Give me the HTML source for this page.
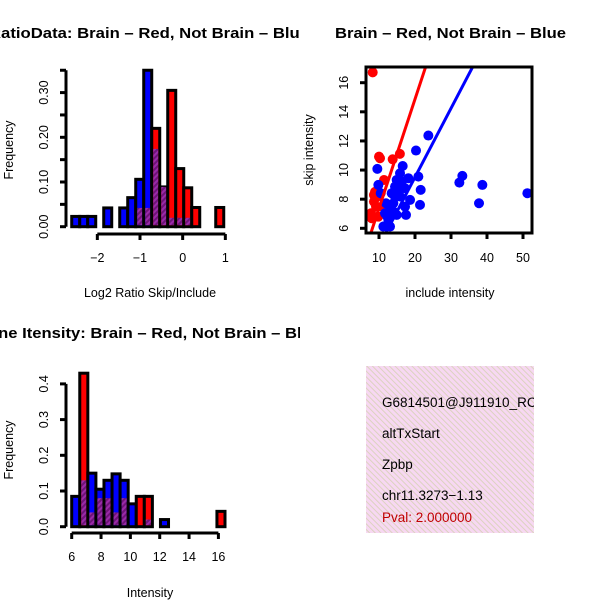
<!DOCTYPE html>
<html><head><meta charset="utf-8"><style>
body{margin:0;background:#fff;}
svg{position:absolute;left:0;top:0;font-family:"Liberation Sans",sans-serif;}
</style></head><body>
<svg id="s" width="600" height="600">
<defs>
<pattern id="ph" width="4" height="4" patternUnits="userSpaceOnUse" patternTransform="rotate(45)"><rect width="4" height="4" fill="#9a2aa8"/><rect width="2" height="4" fill="#6e1478"/></pattern>
<pattern id="pk" width="4" height="4" patternUnits="userSpaceOnUse" patternTransform="rotate(-45)"><rect width="4" height="4" fill="#f7d8f2"/><rect width="1" height="4" fill="#dcd2c0"/></pattern>
<clipPath id="c1"><rect x="0" y="0" width="300" height="300"/></clipPath>
<clipPath id="c2"><rect x="300" y="0" width="300" height="300"/></clipPath>
<clipPath id="c3"><rect x="0" y="300" width="300" height="300"/></clipPath>
<clipPath id="c4"><rect x="300" y="300" width="234" height="300"/></clipPath>
<clipPath id="cb"><rect x="366" y="67" width="166" height="166"/></clipPath>
</defs>
<g id="p1" clip-path="url(#c1)"></g>
<g id="p2" clip-path="url(#c2)"></g>
<g id="p3" clip-path="url(#c3)"></g>
<g id="p4" clip-path="url(#c4)">
<rect x="366" y="366" width="168" height="167" fill="url(#pk)"/>
<text x="382" y="407" font-size="13.5">G6814501@J911910_RC</text>
<text x="382" y="438" font-size="13.5">altTxStart</text>
<text x="382" y="469" font-size="13.5">Zpbp</text>
<text x="382" y="500" font-size="13.5">chr11.3273−1.13</text>
<text x="382" y="522" font-size="13.5" fill="#c00000">Pval: 2.000000</text>
</g>
</svg>
<script>
// Panel 1 data: log2 ratio histogram
const h1Start = -2.6, h1Width = 0.1875;
const h1Blue = [0.023,0.023,0.023,0,0.042,0,0.042,0.065,0.106,0.35,0.174,0.089,0.02,0.02,0.02,0,0,0,0];
const h1Red  = [0,0,0,0,0,0,0,0,0.042,0.042,0.22,0.089,0.305,0.13,0.087,0.043,0,0,0.043];
const h1XTicks = [-2,-1,0,1];
const h1YTicks = [0,0.1,0.2,0.3];
// Panel 2 data: scatter
const redX = [8.25,10.0,10.28,8.6,8.6,9.17,7.78,7.97,9.8,11.4,13.8,15.8,9.54,10.8,8.9];
const redY = [16.71,10.92,10.81,8.29,7.83,7.49,7.03,6.69,6.8,9.32,10.74,11.11,8.18,7.49,8.5];
const blueX = [9.54,9.82,10.47,11.21,13.06,12.32,11.67,13.06,13.99,13.52,14.45,14.91,15.84,16.58,15.37,16.3,18.15,17.23,18.62,17.23,17.5,14.91,13.99,20.28,20.93,21.58,21.39,23.71,32.32,33.15,37.78,38.71,51.21,12.6,14.45,15.84,11.95];
const blueY = [10.08,8.98,8.41,6.12,6.12,6.8,7.03,7.49,7.72,8.41,8.86,9.32,9.78,10.28,8.64,9.21,9.44,8.75,7.95,7.49,6.92,6.92,7.15,11.34,9.55,8.64,7.61,12.37,9.14,9.6,7.72,8.98,8.41,6.58,8.18,8.18,7.72];
const redFit = [-0.13, 0.75];
const blueFit = [0.06, 0.4726];
const scXTicks = [10,20,30,40,50];
const scYTicks = [6,8,10,12,14,16];
// Panel 3 data: intensity histogram
const h3Start = 6, h3Width = 0.55;
const h3Blue = [0.085,0.13,0.15,0.105,0.13,0.148,0.13,0.064,0,0.02,0,0.02,0,0,0,0,0,0,0];
const h3Red  = [0,0.43,0.04,0.08,0.08,0.04,0.08,0,0.085,0.085,0,0,0,0,0,0,0,0,0.043];
const h3XTicks = [6,8,10,12,14,16];
const h3YTicks = [0,0.1,0.2,0.3,0.4];

const NS='http://www.w3.org/2000/svg';
function mk(parent,tag,attrs,txt){const e=document.createElementNS(NS,tag);for(const k in attrs)e.setAttribute(k,attrs[k]);if(txt!==undefined)e.textContent=txt;parent.appendChild(e);return e;}

function hist(g,o){
  const sx=v=>o.x0+(v-o.d0)*o.kx, sy=v=>o.y0-v*o.ky;
  for(let i=0;i<o.blue.length;i++){
    const l=sx(o.start+i*o.w), r=sx(o.start+(i+1)*o.w);
    const b=o.blue[i], rd=o.red[i], mx=Math.max(b,rd), mn=Math.min(b,rd);
    if(mx<=0) continue;
    const top=mx===rd?'red':'blue';
    const bar=mk(g,'rect',{x:l,y:sy(mx),width:r-l,height:sy(0)-sy(mx),fill:top==='red'?'#f00':'#00f',stroke:'#000','stroke-width':3});
    
    
    if(mn>0){
      const ov=mk(g,'rect',{x:l+1.5,y:sy(mn),width:r-l-3,height:sy(0)-sy(mn)-1.5,fill:'url(#ph)'});
      
      
    }
  }
  const yl=mk(g,'line',{x1:o.ax,x2:o.ax,y1:sy(0),y2:sy(o.ytop),stroke:'#000','stroke-width':3});
  
  
  o.yminor.forEach(v=>mk(g,'line',{x1:o.ax-6,x2:o.ax,y1:sy(v),y2:sy(v),stroke:'#000','stroke-width':3}));
  o.yt.forEach(v=>{const t=mk(g,'text',{x:o.ax-18,y:sy(v),'font-size':12.5,'text-anchor':'middle',transform:`rotate(-90 ${o.ax-18} ${sy(v)})`},o.fmt(v));
    
    });
  const xl=mk(g,'line',{x1:sx(o.xt[0]),x2:sx(o.xt[o.xt.length-1]),y1:o.axy,y2:o.axy,stroke:'#000','stroke-width':3});
  
  
  o.xt.forEach(v=>{mk(g,'line',{x1:sx(v),x2:sx(v),y1:o.axy,y2:o.axy+6,stroke:'#000','stroke-width':3});
    const t=mk(g,'text',{x:sx(v),y:o.axy+28,'font-size':12.5,'text-anchor':'middle'},v<0?'−'+Math.abs(v):String(v));
    
    });
}
const p1=document.getElementById('p1');
hist(p1,{x0:140,d0:-1,kx:42.67,y0:226.7,ky:447,start:h1Start,w:h1Width,blue:h1Blue,red:h1Red,ax:66,ytop:0.35,
  yminor:[0,0.05,0.1,0.15,0.2,0.25,0.3,0.35],yt:h1YTicks,fmt:v=>v.toFixed(2),xt:h1XTicks,axy:234});
const p3=document.getElementById('p3');
hist(p3,{x0:71.7,d0:6,kx:14.67,y0:526.7,ky:357,start:h3Start,w:h3Width,blue:h3Blue,red:h3Red,ax:66,ytop:0.4,
  yminor:[0,0.1,0.2,0.3,0.4],yt:h3YTicks,fmt:v=>v.toFixed(1),xt:h3XTicks,axy:533});

const p2=document.getElementById('p2');
const scx=v=>379+(v-10)*3.6, scy=v=>82.7-(v-16)*14.56;
const pts=mk(p2,'g',{'clip-path':'url(#cb)'});
redX.forEach((x,i)=>{const c=mk(pts,'circle',{cx:scx(x),cy:scy(redY[i]),r:5,fill:'#f00'});
  
  });
blueX.forEach((x,i)=>{const c=mk(pts,'circle',{cx:scx(x),cy:scy(blueY[i]),r:5,fill:'#00f'});
  
  });
[[redFit,'#f00','red-fit-line'],[blueFit,'#00f','blue-fit-line']].forEach(([f,col,nm])=>{
  const l=mk(pts,'line',{x1:scx(0),y1:scy(f[0]),x2:scx(60),y2:scy(f[0]+f[1]*60),stroke:col,'stroke-width':3});
  
  });
const box=mk(p2,'rect',{x:366,y:67,width:166,height:166,fill:'none',stroke:'#000','stroke-width':3});


scXTicks.forEach(v=>{mk(p2,'line',{x1:scx(v),x2:scx(v),y1:233,y2:239,stroke:'#000','stroke-width':3});
  const t=mk(p2,'text',{x:scx(v),y:262,'font-size':12.5,'text-anchor':'middle'},String(v));
  
  });
scYTicks.forEach(v=>{mk(p2,'line',{x1:360,x2:366,y1:scy(v),y2:scy(v),stroke:'#000','stroke-width':3});
  const t=mk(p2,'text',{x:348,y:scy(v),'font-size':12.5,'text-anchor':'middle',transform:`rotate(-90 348 ${scy(v)})`},String(v));
  
  });
</script>
<svg width="600" height="600" style="pointer-events:none">
<defs><clipPath id="t1"><rect x="0" y="0" width="300" height="300"/></clipPath><clipPath id="t3"><rect x="0" y="300" width="300" height="300"/></clipPath></defs>
<text x="-11" y="38" font-size="14.5" font-weight="bold" textLength="320" lengthAdjust="spacingAndGlyphs" clip-path="url(#t1)">RatioData: Brain – Red, Not Brain – Blue</text>
<text x="335" y="38" font-size="14.5" font-weight="bold" textLength="231" lengthAdjust="spacingAndGlyphs">Brain – Red, Not Brain – Blue</text>
<text x="-24" y="338" font-size="14.5" font-weight="bold" textLength="345" lengthAdjust="spacingAndGlyphs" clip-path="url(#t3)">Gene Itensity: Brain – Red, Not Brain – Blue</text>
<text x="150" y="297" font-size="12.5" text-anchor="middle">Log2 Ratio Skip/Include</text>
<text x="450" y="297" font-size="12.5" text-anchor="middle">include intensity</text>
<text x="150" y="597" font-size="12.5" text-anchor="middle">Intensity</text>
<text x="13" y="150" font-size="12.5" text-anchor="middle" transform="rotate(-90 13 150)">Frequency</text>
<text x="313" y="150" font-size="12.5" text-anchor="middle" transform="rotate(-90 313 150)">skip intensity</text>
<text x="13" y="450" font-size="12.5" text-anchor="middle" transform="rotate(-90 13 450)">Frequency</text>
</svg>
</body></html>
